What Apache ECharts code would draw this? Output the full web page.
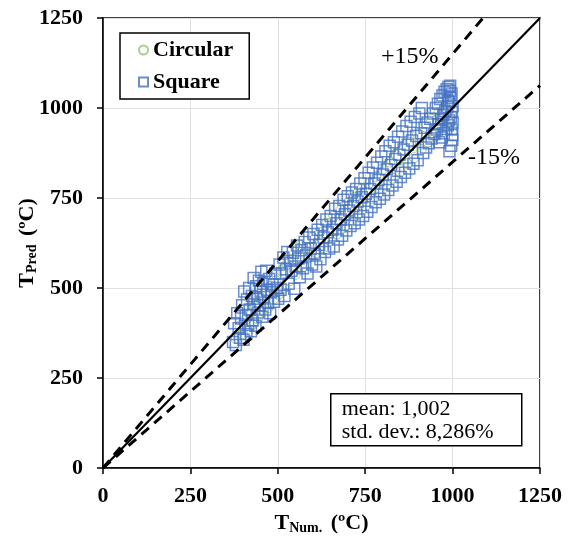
<!DOCTYPE html>
<html>
<head>
<meta charset="utf-8">
<script src="https://cdn.jsdelivr.net/npm/echarts@6/dist/echarts.min.js"></script>
<style>
  html, body { margin: 0; padding: 0; background: #fff; }
  #chart { width: 574px; height: 545px; }
</style>
</head>
<body>
<div id="chart"></div>
<script>
// axis ticks
const axisMin = 0
const axisMax = 1250
const axisStep = 250

// reference lines [x, y]
const lineEqual = [[0, 0], [1250, 1250]]
const lineUpper = [[0, 0], [1087, 1250]]
const lineLower = [[0, 0], [1250, 1062.5]]

// square specimens [T_num, T_pred]
const squareData = [
  [372, 350], [375, 402], [380, 342], [384, 430], [388, 388], [392, 362], [395, 415],
  [398, 452], [402, 356], [404, 490], [408, 425], [410, 372], [412, 468], [415, 398],
  [418, 500], [420, 440], [423, 380], [426, 478], [428, 410], [431, 528], [433, 455],
  [436, 395], [438, 505], [441, 470], [443, 432], [446, 520], [448, 452], [451, 490],
  [453, 545], [456, 420], [458, 512], [461, 475], [464, 440], [467, 548], [469, 495],
  [472, 458], [475, 525], [478, 430], [481, 488], [485, 510], [489, 462], [493, 540],
  [497, 500], [501, 470], [505, 565], [508, 495], [512, 540], [516, 585], [519, 478],
  [523, 552], [527, 600], [531, 512], [535, 575], [539, 548], [543, 598], [547, 498],
  [551, 560], [555, 618], [559, 582], [563, 530], [568, 605], [572, 555], [577, 628],
  [581, 590], [585, 540], [590, 640], [594, 610], [598, 565], [602, 650], [606, 595],
  [610, 560], [614, 662], [618, 620], [622, 580], [627, 675], [631, 640], [635, 600],
  [639, 690], [643, 655], [647, 610], [651, 700], [656, 662], [660, 615], [664, 720],
  [668, 680], [672, 635], [676, 728], [680, 690], [684, 645], [688, 745], [692, 705],
  [696, 660], [700, 755], [704, 715], [708, 672], [712, 765], [716, 728], [720, 680],
  [724, 775], [728, 740], [732, 690], [736, 790], [740, 752], [744, 700], [748, 805],
  [752, 762], [756, 712], [760, 820], [764, 775], [768, 725], [772, 835], [776, 790],
  [780, 738], [784, 848], [788, 800], [792, 748], [796, 865], [800, 815], [804, 760],
  [808, 880], [812, 830], [816, 772], [820, 895], [824, 842], [828, 785], [832, 905],
  [836, 858], [840, 795], [844, 920], [848, 870], [852, 808], [856, 935], [860, 885],
  [864, 820], [868, 950], [872, 898], [876, 832], [880, 962], [884, 910], [888, 845],
  [892, 975], [896, 922], [900, 855], [905, 985], [910, 930], [912, 1000], [916, 875],
  [920, 945], [924, 890], [928, 960], [932, 902], [936, 970], [940, 915], [944, 985],
  [948, 928], [952, 1000], [955, 940], [958, 1012], [960, 955], [962, 905], [965, 1025],
  [967, 968], [969, 918], [971, 1035], [973, 980], [975, 930], [977, 1045], [979, 992],
  [981, 942], [983, 1052], [985, 1002], [986, 952], [988, 1058], [989, 1015], [990, 965],
  [991, 880], [993, 1062], [994, 1028], [995, 975], [996, 895], [997, 1040], [998, 988],
  [999, 912], [1000, 1005], [999, 925], [997, 940], [1000, 960], [992, 1048], [987, 1020]
]

// circular specimens [T_num, T_pred]
const circleData = [
  [380, 360], [392, 395], [400, 372], [408, 412], [415, 380], [420, 428], [428, 400],
  [435, 452], [442, 415], [450, 470], [458, 440], [465, 488], [472, 445], [480, 505],
  [488, 470], [495, 520], [502, 482], [510, 548], [518, 500], [526, 565], [534, 520],
  [542, 580], [550, 538], [558, 610], [565, 618], [574, 560], [582, 612], [590, 585],
  [600, 640], [610, 598], [620, 655], [630, 612], [640, 680], [650, 632], [660, 700],
  [670, 650], [680, 715], [690, 668], [700, 735], [710, 690], [720, 752], [730, 705],
  [740, 775], [750, 728], [760, 790], [770, 748], [780, 810], [790, 765], [800, 830],
  [810, 785], [820, 850], [830, 805], [840, 868], [850, 822], [860, 885], [870, 845],
  [880, 905], [890, 862], [900, 928], [910, 885], [920, 948], [930, 905], [940, 968],
  [950, 925], [960, 985], [970, 948], [980, 1000], [990, 962]
]

const serif = '"Liberation Serif", "Times New Roman", serif'

const chart = echarts.init(document.getElementById('chart'), null, { renderer: 'canvas' })

const axisCommon = {
  type: 'value',
  min: axisMin,
  max: axisMax,
  interval: axisStep,
  nameLocation: 'middle',
  nameMoveOverlap: false,
  axisLine: { show: true, lineStyle: { color: '#000', width: 1.5 } },
  axisTick: { show: true, inside: false, length: 6, lineStyle: { color: '#000', width: 1.5 } },
  splitLine: { show: true, lineStyle: { color: '#e0e0e0', width: 1 } },
  axisLabel: {
    color: '#000',
    fontFamily: serif,
    fontWeight: 'bold',
    fontSize: 22,
    formatter: (v) => String(v)
  }
}

const nameRich = {
  m: { fontFamily: serif, fontWeight: 'bold', fontSize: 22, color: '#000', lineHeight: 26 },
  s: { fontFamily: serif, fontWeight: 'bold', fontSize: 14, color: '#000', padding: [11, 3, 0, 0], lineHeight: 26 }
}

const option = {
  backgroundColor: '#fff',
  animation: false,
  grid: {
    left: 103,
    right: 34,
    top: 18,
    bottom: 77,
    containLabel: false,
    outerBoundsMode: 'none',
    show: true,
    borderColor: '#000',
    borderWidth: 1.5
  },
  legend: {
    left: 120,
    top: 33,
    orient: 'vertical',
    itemGap: 10,
    padding: [6, 16, 6, 18],
    borderColor: '#000',
    borderWidth: 1.5,
    backgroundColor: '#fff',
    itemWidth: 9,
    itemHeight: 9,
    textStyle: { fontFamily: serif, fontWeight: 'bold', fontSize: 22, color: '#000' },
    data: [
      { name: 'Circular', icon: 'circle' },
      { name: 'Square', icon: 'rect' }
    ]
  },
  xAxis: {
    ...axisCommon,
    axisLabel: { ...axisCommon.axisLabel, margin: 17 },
    name: '{m|T}{s|Num.}{m| (ºC)}',
    nameGap: 42,
    nameTextStyle: { rich: nameRich }
  },
  yAxis: {
    ...axisCommon,
    axisLabel: { ...axisCommon.axisLabel, margin: 20 },
    name: '{m|T}{s|Pred}{m| (ºC)}',
    nameGap: 63,
    nameRotate: 90,
    nameTextStyle: { rich: nameRich }
  },
  series: [
    {
      name: 'Square',
      type: 'scatter',
      symbol: 'rect',
      symbolSize: 11,
      z: 3,
      itemStyle: { color: 'rgba(0,0,0,0)', borderColor: '#4472C4', borderWidth: 1.5 },
      data: squareData
    },
    {
      name: 'Circular',
      type: 'scatter',
      symbol: 'circle',
      symbolSize: 10,
      z: 2,
      itemStyle: { color: 'rgba(0,0,0,0)', borderColor: '#92C46A', borderWidth: 1 },
      data: circleData
    },
    {
      name: 'equal',
      type: 'line',
      symbol: 'none',
      silent: true,
      z: 4,
      lineStyle: { color: '#000', width: 2.2, type: 'solid' },
      data: lineEqual
    },
    {
      name: 'upper',
      type: 'line',
      symbol: 'none',
      silent: true,
      z: 4,
      lineStyle: { color: '#000', width: 3, type: [10, 7] },
      data: lineUpper
    },
    {
      name: 'lower',
      type: 'line',
      symbol: 'none',
      silent: true,
      z: 4,
      lineStyle: { color: '#000', width: 3, type: [10, 7] },
      data: lineLower
    }
  ],
  graphic: [
    {
      type: 'text',
      left: 381,
      top: 45,
      z: 100,
      style: { text: '+15%', font: '24px ' + serif, fill: '#000' }
    },
    {
      type: 'text',
      left: 468,
      top: 146,
      z: 100,
      style: { text: '-15%', font: '24px ' + serif, fill: '#000' }
    },
    {
      type: 'group',
      left: 330,
      top: 393,
      z: 100,
      children: [
        {
          type: 'rect',
          z: 100,
          shape: { x: 0, y: 0, width: 191, height: 52 },
          style: { fill: '#fff', stroke: '#000', lineWidth: 1.5 }
        },
        {
          type: 'text',
          z: 101,
          x: 11,
          y: 4,
          style: { text: 'mean: 1,002', font: '22px ' + serif, fill: '#000' }
        },
        {
          type: 'text',
          z: 101,
          x: 11,
          y: 27,
          style: { text: 'std. dev.: 8,286%', font: '22px ' + serif, fill: '#000' }
        }
      ]
    }
  ]
}

chart.setOption(option)
</script>
</body>
</html>
